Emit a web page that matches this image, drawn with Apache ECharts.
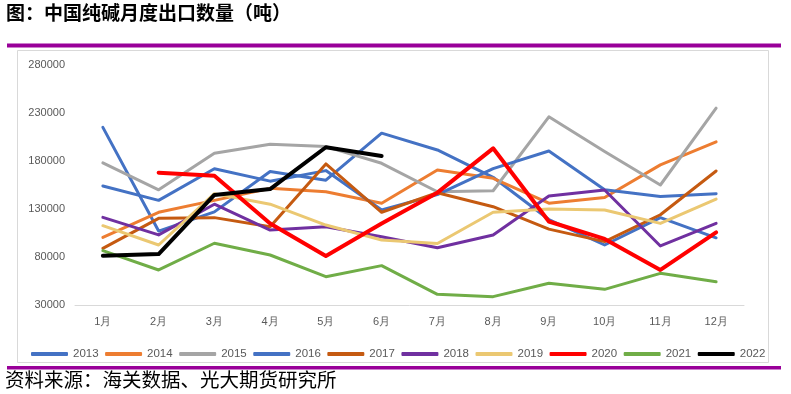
<!DOCTYPE html>
<html><head><meta charset="utf-8">
<script src="https://cdn.jsdelivr.net/npm/echarts@6/dist/echarts.min.js"></script>
<style>html,body{margin:0;padding:0;background:#fff}#c{width:791px;height:394px}</style>
</head><body><div id="c"></div>
<script>
const months = ['1月','2月','3月','4月','5月','6月','7月','8月','9月','10月','11月','12月'];
const years = ['2013','2014','2015','2016','2017','2018','2019','2020','2021','2022'];
const yTicks = [30000, 80000, 130000, 180000, 230000, 280000];
const v2013 = [215000,107000,127000,169000,160000,209000,191500,163000,119000,92500,121000,100000];
const v2014 = [100500,126600,139000,151500,148000,136000,170600,162000,136000,142000,176000,200000];
const v2015 = [178000,150000,188000,197400,195000,177600,148000,149000,226000,190000,155000,235000];
const v2016 = [154000,139000,172000,159000,170000,129000,145000,172000,190400,150000,143000,146000];
const v2017 = [89000,120300,121000,111600,177000,126600,147000,132400,109000,96000,124000,169600];
const v2018 = [121300,103000,135000,108000,111600,101000,89700,103000,143500,149800,91500,115000];
const v2019 = [112600,92500,146000,135000,113300,97700,94000,126600,130000,129000,115000,140400];
const v2020 = [null,167800,164700,115000,81000,115000,147000,193200,117000,98800,66500,105700];
const v2021 = [86600,66500,94300,82100,59500,71000,41100,38700,52600,46300,63000,54300];
const v2022 = [81400,83100,144600,150800,194300,185200];
const values = [v2013,v2014,v2015,v2016,v2017,v2018,v2019,v2020,v2021,v2022];
const colors = ['#4472C4','#ED7D31','#A5A5A5','#4472C4','#C55A11','#7030A0','#EBC872','#FF0000','#70AD47','#000000'];
const widths = [3,3,3,3,3,3,3,4,3,4];

const chart = echarts.init(document.getElementById('c'), null, {renderer:'canvas'});
chart.setOption({
  animation:false,
  backgroundColor:'#fff',
  textStyle:{fontFamily:'Liberation Sans, Arial, sans-serif'},
  graphic:[
    {type:'text', left:6, top:3, style:{text:'图：中国纯碱月度出口数量（吨）', font:'bold 19px "Noto Sans CJK SC"', fill:'#000'}},
    {type:'rect', shape:{x:7,y:43.5,width:774,height:4}, style:{fill:'#990099'}},
    {type:'rect', shape:{x:17.5,y:50.5,width:751,height:312}, style:{fill:'none',stroke:'#D9D9D9',lineWidth:1}},
    {type:'rect', shape:{x:7,y:366,width:774,height:3.5}, style:{fill:'#990099'}},
    {type:'text', left:5, top:370, style:{text:'资料来源：海关数据、光大期货研究所', font:'19.5px "Noto Sans CJK SC"', fill:'#000'}}
  ],
  grid:{left:75, right:47, top:65, bottom:89},
  legend:{
    left:26, top:343, itemWidth:37, itemHeight:4, itemGap:6.5,
    icon:'roundRect',
    textStyle:{fontSize:11.5, color:'#595959'},
    data: years
  },
  xAxis:{
    type:'category', data:months, boundaryGap:true,
    axisLine:{lineStyle:{color:'#D9D9D9'}}, axisTick:{show:false},
    axisLabel:{color:'#595959', fontSize:11, margin:11}
  },
  yAxis:{
    type:'value', min:yTicks[0], max:yTicks[yTicks.length-1], interval:50000,
    axisLine:{show:false}, axisTick:{show:false}, splitLine:{show:false},
    axisLabel:{color:'#595959', fontSize:11, margin:10, formatter:(v)=>String(v)}
  },
  series: years.map((y,i)=>({
    name:y, type:'line', data:values[i], showSymbol:false, symbol:'none',
    connectNulls:false,
    lineStyle:{color:colors[i], width:widths[i], cap:'round', join:'round'},
    itemStyle:{color:colors[i]}
  }))
});
</script></body></html>
